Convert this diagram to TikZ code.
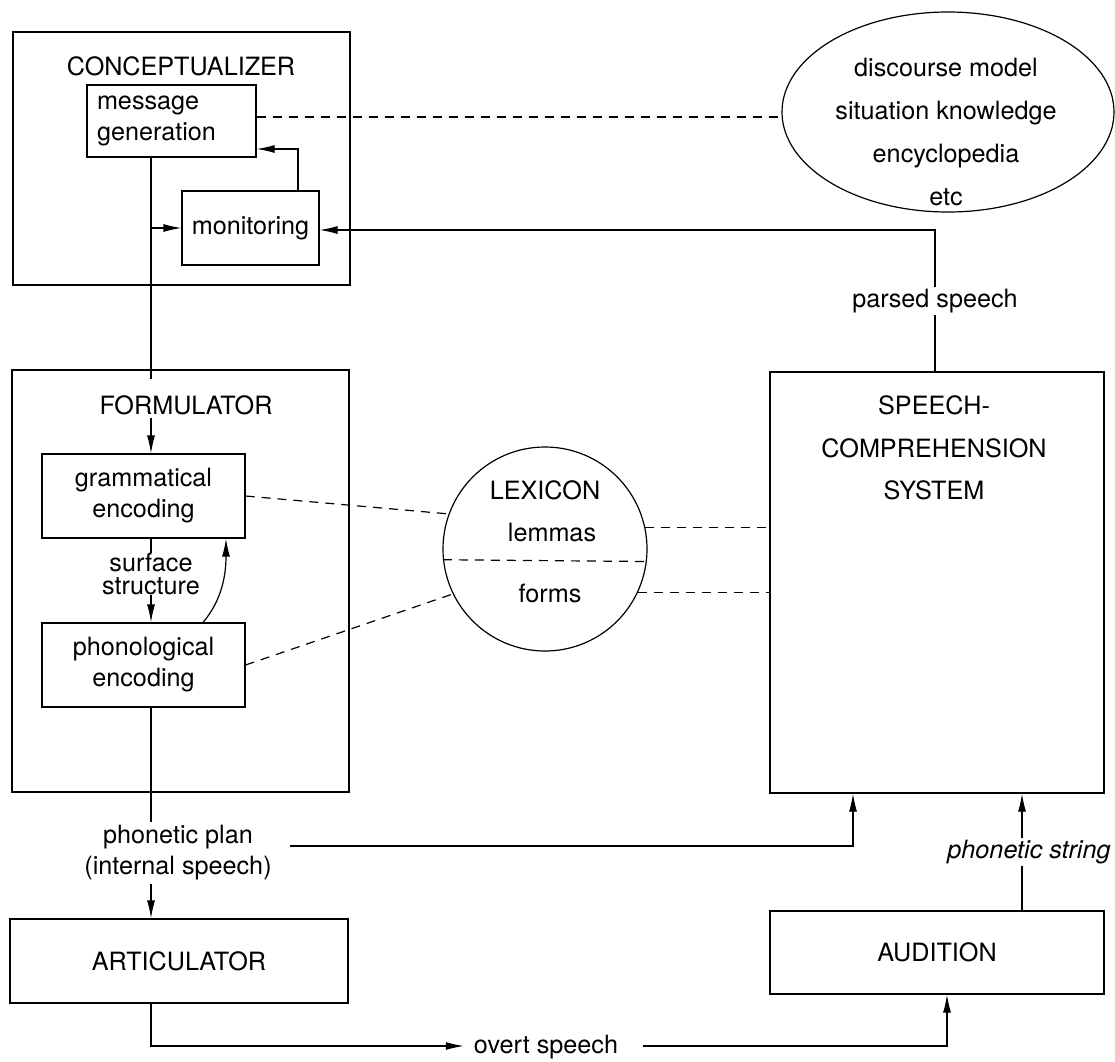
\documentclass[tikz,border=0pt]{standalone}
\usepackage{fontspec}
\setmainfont{TeX Gyre Heros}
\usetikzlibrary{shapes.geometric, arrows.meta, calc}
\begin{document}
\begin{tikzpicture}[x=1pt, y=-1pt,
  box/.style={draw, line width=1.2pt, inner sep=0pt},
  txt/.style={font=\fontsize{25.2}{31}\selectfont, align=center},
  con/.style={line width=1.2pt},
  arr/.style={con, -{Latex[length=18pt, width=8pt]}},
  dsh/.style={con, dash pattern=on 9pt off 7pt},
  lbl/.style={txt, fill=white, inner sep=2pt}
]
\useasboundingbox (0,0) rectangle (1115,1061);

% ---------- nodes ----------
\node[box, minimum width=337, minimum height=253] (concept) at (181.5,158.5) {};
\node[txt] (ctitle) at (181,66) {CONCEPTUALIZER};
\node[box, txt, align=left, text width=149pt, inner xsep=10pt, minimum height=72] (mg) at (171.5,121) {message\\generation};
\node[box, txt, minimum width=137, minimum height=74] (mon) at (250.5,228) {monitoring};

\node[box, minimum width=337, minimum height=422] (form) at (180.5,581) {};
\node[txt] (ftitle) at (186,405) {FORMULATOR};
\node[box, txt, minimum width=203, minimum height=84] (gram) at (143.5,496) {grammatical\\encoding};
\node[box, txt, minimum width=203, minimum height=84] (phon) at (143.5,665) {phonological\\encoding};

\node[txt] (pp) at (178,853) {phonetic plan\\(internal speech)};
\node[box, txt, minimum width=338, minimum height=84] (artic) at (179,961) {ARTICULATOR};
\node[txt, inner xsep=10pt] (ov) at (546,1047) {overt speech};

\node[draw, ellipse, line width=1.2pt, minimum width=332, minimum height=200, inner sep=0pt] (ell) at (948,112) {};
\node[txt, font=\fontsize{25.2}{42.7}\selectfont] (etext) at (946,132) {discourse model\\situation knowledge\\encyclopedia\\etc};

\node[draw, circle, line width=1.2pt, minimum size=204, inner sep=0pt] (lex) at (545,549) {};
\node[txt] (lextitle) at (545,490) {LEXICON};
\node[txt] (lemmas) at (552,532) {lemmas};
\node[txt] (forms) at (550,593) {forms};

\node[box, minimum width=334, minimum height=421] (scs) at (937,582.5) {};
\node[txt, font=\fontsize{25.2}{42.5}\selectfont] (stitle) at (934,448) {SPEECH-\\COMPREHENSION\\SYSTEM};
\node[box, txt, minimum width=334, minimum height=83] (aud) at (937,952.5) {AUDITION};

% ---------- helper coordinates ----------
\coordinate (sp) at (151,0);
\coordinate (fb) at (298,149);
\coordinate (dl) at (0,117);
\coordinate (ps) at (935,230);
\coordinate (cu1) at (203,0);
\coordinate (cu2) at (226,0);
\coordinate (pl) at (853,846);
\coordinate (ovy) at (0,1046);
\coordinate (ax) at (947,0);
\coordinate (psx) at (1022,0);

% ---------- connectors ----------
% conceptualizer
\draw[con] (mg.south -| sp) -- ($(form.north -| sp)+(0,10)$);
\draw[arr] (mon.west -| sp) -- (mon.west);
\draw[arr] (mon.north -| fb) |- (mg.east |- fb);
\draw[dsh] (mg.east |- dl) -- (ell.west |- dl);
\draw[arr] (scs.north -| ps) -- node[lbl]{parsed speech} (ps) -- (mon.east |- ps);

% formulator
\draw[arr] (ftitle.south -| sp) -- (gram.north -| sp);
\draw[arr] (gram.south -| sp) -- node[lbl, pos=0.42, font=\fontsize{25.2}{23}\selectfont, inner sep=0pt]{surface\\structure} (phon.north -| sp);
\draw[arr] (phon.north -| cu1) .. controls (222,600) and (226,575) .. (gram.south -| cu2);

% lexicon
\draw[dsh] (gram.east) -- (lex.160);
\draw[dsh] (phon.east) -- (lex.206);
\draw[dsh] (lex.186.8) -- (lex.353.2);
\draw[dsh] (lex.12) -- (lex.12 -| scs.west);
\draw[dsh] (lex.335) -- (lex.335 -| scs.west);

% phonetic plan
\draw[con] (phon.south -| sp) -- (pp.north -| sp);
\draw[arr] (pp.south -| sp) -- (artic.north -| sp);
\draw[arr] ($(pp.east |- pl)+(15,0)$) -- (pl) -- (scs.south -| pl);

% overt speech
\draw[arr] (artic.south -| sp) |- (ov.west |- ovy);
\draw[arr] ($(ov.east |- ovy)+(15,0)$) -| (aud.south -| ax);

% phonetic string
\draw[arr] (aud.north -| psx) -- node[lbl, xshift=7pt, font=\fontsize{25.2}{31}\selectfont\itshape]{phonetic string} (scs.south -| psx);
\end{tikzpicture}
\end{document}
